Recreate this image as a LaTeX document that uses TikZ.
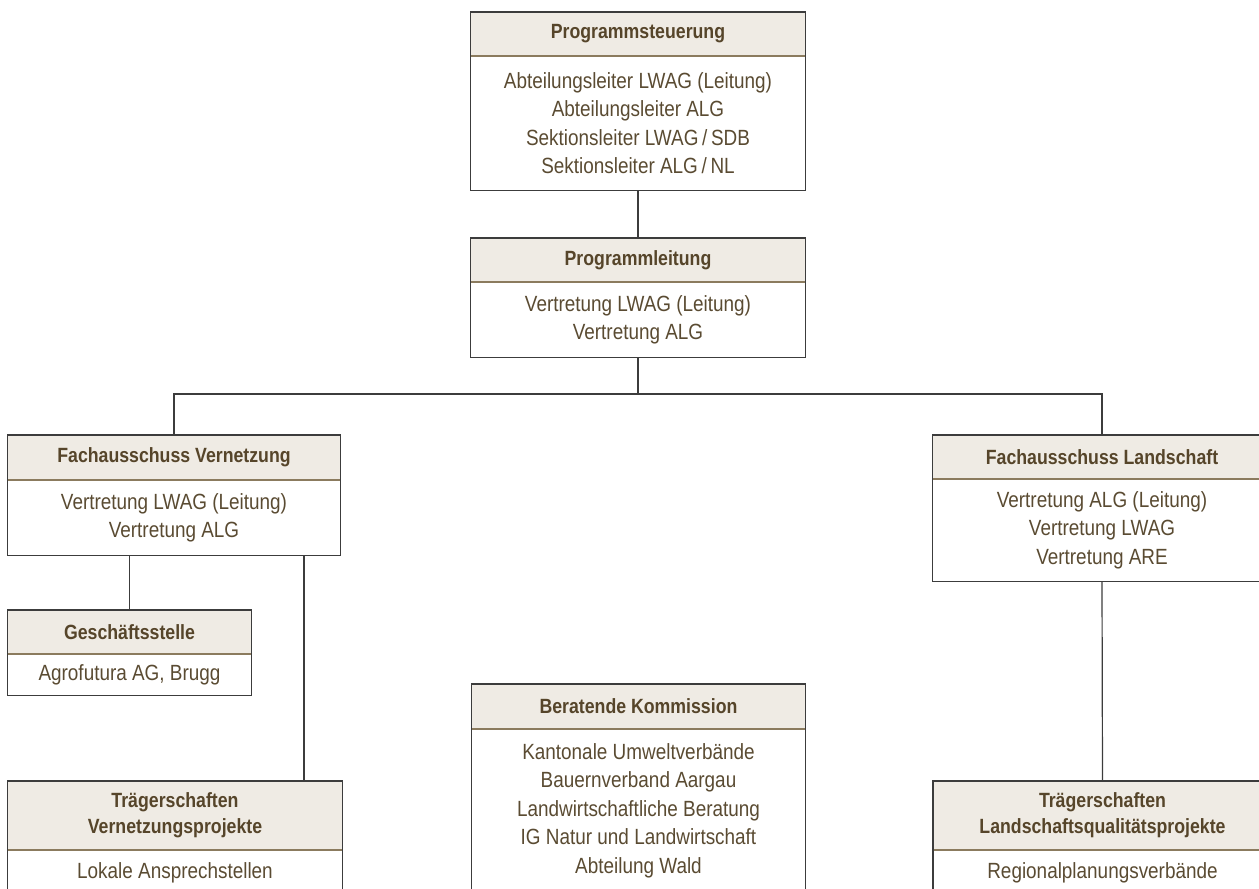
\documentclass[tikz,border=0pt]{standalone}
\usepackage{fontspec}
\setmainfont{Liberation Sans}[FakeStretch=0.86]
\usetikzlibrary{positioning}

\definecolor{headfill}{HTML}{EFEBE4}
\definecolor{headtext}{HTML}{56452A}
\definecolor{bodytext}{HTML}{5A4B32}
\definecolor{divline}{HTML}{8B7B5E}
\definecolor{frameline}{HTML}{3C3C3C}

\begin{document}
\begin{tikzpicture}[x=0.5pt,y=-0.5pt,
    head/.style={fill=headfill,text=headtext,inner sep=0pt,anchor=north,align=center,
      font=\fontsize{10.3}{13}\selectfont\bfseries},
    body/.style={text=bodytext,inner sep=0pt,align=center,
      font=\fontsize{11}{14.25}\selectfont},
    frame/.style={draw=frameline,line width=0.75pt},
    divider/.style={draw=divline,line width=0.75pt},
    link/.style={draw=frameline,line width=0.6pt}]
    \useasboundingbox (0,0) rectangle (1259,889);
    \clip (0,0) rectangle (1259,889);

    % mittlere Spalte
    \node [head,minimum width=167pt,minimum height=21.5pt] (psh) at (638,12) {Programmsteuerung};
    \node [body,minimum width=167pt,minimum height=67pt,below=0pt of psh] (psb)
      {Abteilungsleiter LWAG (Leitung)\\Abteilungsleiter ALG\\Sektionsleiter LWAG\,/\,SDB\\Sektionsleiter ALG\,/\,NL};
    \node [head,minimum width=167pt,minimum height=21.5pt] (plh) at (638,238) {Programmleitung};
    \node [body,minimum width=167pt,minimum height=37.5pt,below=0pt of plh] (plb)
      {Vertretung LWAG (Leitung)\\Vertretung ALG};
    \node [head,minimum width=166.5pt,minimum height=22pt] (bkh) at (638.5,684) {Beratende Kommission};
    \node [body,minimum width=166.5pt,minimum height=81.5pt,below=0pt of bkh] (bkb)
      {Kantonale Umweltverbände\\Bauernverband Aargau\\Landwirtschaftliche Beratung\\IG Natur und Landwirtschaft\\Abteilung Wald};

    % linke Spalte
    \node [head,minimum width=166pt,minimum height=22pt] (favh) at (174,435) {Fachausschuss Vernetzung};
    \node [body,minimum width=166pt,minimum height=37.5pt,below=0pt of favh] (favb)
      {Vertretung LWAG (Leitung)\\Vertretung ALG};
    \node [head,minimum width=121.5pt,minimum height=21.5pt] (gsh) at (129.5,610) {Geschäftsstelle};
    \node [body,minimum width=121.5pt,minimum height=20.5pt,below=0pt of gsh] (gsb)
      {Agrofutura AG, Brugg};
    \node [head,minimum width=167pt,minimum height=34pt] (tvph) at (175,781) {Trägerschaften\\Vernetzungsprojekte};
    \node [body,minimum width=167pt,minimum height=23pt,below=0pt of tvph] (tvpb)
      {Lokale Ansprechstellen};

    % rechte Spalte
    \node [head,minimum width=169pt,minimum height=21.5pt] (falh) at (1102,435) {Fachausschuss Landschaft};
    \node [body,minimum width=169pt,minimum height=51pt,below=0pt of falh] (falb)
      {Vertretung ALG (Leitung)\\Vertretung LWAG\\Vertretung ARE};
    \node [head,minimum width=169pt,minimum height=34pt] (tlqh) at (1102.5,781) {Trägerschaften\\Landschaftsqualitätsprojekte};
    \node [body,minimum width=169pt,minimum height=23pt,below=0pt of tlqh] (tlqb)
      {Regionalplanungsverbände};

    \foreach \n in {ps,pl,bk,fav,gs,tvp,fal,tlq}
    {
      \draw [divider] (\n h.south west) -- (\n h.south east);
      \draw [frame] (\n h.north west) rectangle (\n b.south east);
    }

    % Verbindungen
    \coordinate (fork) at (638,394);
    \coordinate (tvpin) at (304,781);
    \draw [link] (psb.south) -- (plh.north);
    \draw [link] (plb.south) -- (fork);
    \draw [link] (favh.north) |- (fork) -| (falh.north);
    \draw [link] (favb.south -| gsh.north) -- (gsh.north);
    \draw [link] (tvpin |- favb.south) -- (tvpin);
    \draw [link] (falb.south) -- (tlqh.north);
  \end{tikzpicture}
\end{document}
